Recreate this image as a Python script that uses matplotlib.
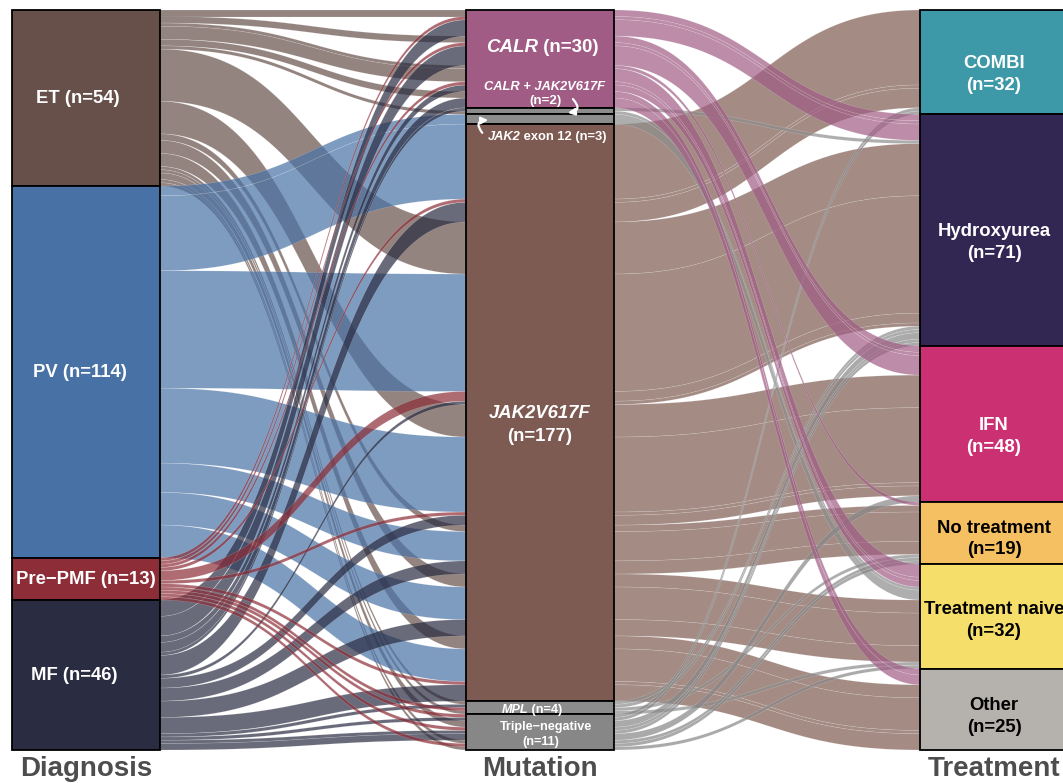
import numpy as np
import matplotlib
matplotlib.use("Agg")
import matplotlib.pyplot as plt
from matplotlib.patches import Rectangle, Polygon, FancyArrowPatch
from matplotlib.colors import to_rgba

# ---------------------------------------------------------------- data
diagnoses = ["ET", "PV", "Pre\u2212PMF", "MF"]
mutations = ["CALR", "CALR + JAK2V617F", "JAK2 exon 12", "JAK2V617F", "MPL",
             "Triple\u2212negative"]
treatments = ["COMBI", "Hydroxyurea", "IFN", "No treatment", "Treatment naive",
              "Other"]

# patients per (mutation row) x (treatment column), one table per diagnosis
et_counts = [
    [0, 2, 2, 1, 4, 2],
    [0, 0, 0, 0, 1, 0],
    [0, 0, 0, 0, 0, 0],
    [0, 16, 10, 2, 4, 4],
    [0, 1, 0, 0, 1, 0],
    [0, 2, 0, 1, 1, 0],
]
pv_counts = [
    [0, 0, 0, 0, 0, 0],
    [0, 0, 0, 0, 0, 0],
    [0, 0, 0, 0, 3, 0],
    [23, 36, 23, 9, 10, 10],
    [0, 0, 0, 0, 0, 0],
    [0, 0, 0, 0, 0, 0],
]
prepmf_counts = [
    [0, 1, 1, 0, 1, 0],
    [0, 0, 0, 0, 0, 0],
    [0, 0, 0, 0, 0, 0],
    [1, 3, 1, 0, 0, 1],
    [0, 0, 0, 1, 0, 0],
    [1, 1, 0, 1, 0, 0],
]
mf_counts = [
    [0, 5, 6, 0, 2, 3],
    [0, 1, 0, 0, 0, 0],
    [0, 0, 0, 0, 0, 0],
    [6, 1, 3, 4, 5, 5],
    [0, 1, 0, 0, 0, 0],
    [1, 1, 2, 0, 0, 0],
]
tables = [et_counts, pv_counts, prepmf_counts, mf_counts]

diag_colors = ["#67504A", "#4872A6", "#8C2D37", "#2A2C42"]
mut_colors = ["#A05C84", "#8C8C8C", "#8C8C8C", "#7E5B52", "#8C8C8C", "#878787"]
treat_colors = ["#3D98A8", "#322652", "#CA3072", "#F5C062", "#F6DE6A", "#B5B1AC"]
treat_text = ["white", "white", "white", "black", "black", "black"]

# ---------------------------------------------------------------- paths
paths = []
for d, tab in enumerate(tables):
    for m, row in enumerate(tab):
        for t, c in enumerate(row):
            if c > 0:
                paths.append((d, m, t, c))
N = sum(p[3] for p in paths)


def stack(order_key):
    pos = {}
    y = 0.0
    for p in sorted(paths, key=order_key):
        pos[p[:3]] = y
        y += p[3]
    return pos


pos_diag = stack(lambda p: (p[0], p[1], p[2]))
pos_mut = stack(lambda p: (p[1], p[2], p[0]))
pos_treat = stack(lambda p: (p[2], p[1], p[0]))

# ---------------------------------------------------------------- figure
W_PX, H_PX = 1063, 783
fig = plt.figure(figsize=(W_PX / 100, H_PX / 100), dpi=100)
ax = fig.add_axes([0, 0, 1, 1])
ax.axis("off")

top_px, bot_px = 10, 750
unit = (bot_px - top_px) / N
px_per_x, x0_px = 454, 86
ax.set_xlim(1 - x0_px / px_per_x, 1 + (W_PX - x0_px) / px_per_x)
ax.set_ylim(N + (H_PX - bot_px) / unit, -top_px / unit)

width = 148 / 454
xs_axes = [1, 2, 3]

tt = np.linspace(0, 1, 80)
bez_x = 1.5 * tt * (1 - tt) + tt ** 3
bez_y = 3 * tt ** 2 - 2 * tt ** 3


def flow(xa, xb, ya, yb, c, color, z):
    xs = xa + (xb - xa) * bez_x
    ytop = ya + (yb - ya) * bez_y
    verts = np.column_stack([np.r_[xs, xs[::-1]],
                             np.r_[ytop, (ytop + c)[::-1]]])
    ax.add_patch(Polygon(verts, closed=True, fc=to_rgba(color, 0.7),
                         ec=(1, 1, 1, 0.3), lw=0.3, zorder=z))


# diagnosis -> mutation flows
draw_order_d = [0, 1, 3, 2]
for rank, d in enumerate(draw_order_d):
    for p in paths:
        if p[0] != d:
            continue
        k = p[:3]
        flow(1 + width / 2, 2 - width / 2, pos_diag[k], pos_mut[k], p[3],
             diag_colors[d], 1 + rank * 0.01)

# mutation -> treatment flows
draw_order_m = [3, 1, 2, 4, 5, 0]
for rank, m in enumerate(draw_order_m):
    for p in paths:
        if p[1] != m:
            continue
        k = p[:3]
        flow(2 + width / 2, 3 - width / 2, pos_mut[k], pos_treat[k], p[3],
             mut_colors[m], 1 + rank * 0.01)


# strata boxes
def strata(x, sizes, colors):
    y = 0
    for s, c in zip(sizes, colors):
        ax.add_patch(Rectangle((x - width / 2, y), width, s, fc=c, ec="black",
                               lw=1.3, zorder=3))
        y += s


diag_tot = [sum(sum(r) for r in tab) for tab in tables]
mut_tot = [sum(tab[m][t] for tab in tables for t in range(6)) for m in range(6)]
treat_tot = [sum(tab[m][t] for tab in tables for m in range(6)) for t in range(6)]
strata(1, diag_tot, diag_colors)
strata(2, mut_tot, mut_colors)
strata(3, treat_tot, treat_colors)

# ---------------------------------------------------------------- labels
FONT = "Liberation Sans"
renderer = fig.canvas.get_renderer()


def rich(x_px, base_px, parts, size, color="white"):
    objs, total = [], 0.0
    for s, ital in parts:
        t = fig.text(0, 0, s, fontsize=size, fontweight="bold",
                     fontstyle="italic" if ital else "normal", color=color,
                     ha="left", va="baseline", family=FONT, zorder=5)
        w = t.get_window_extent(renderer).width
        objs.append((t, w))
        total += w
    x = x_px - total / 2
    for t, w in objs:
        t.set_position((x / W_PX, 1 - base_px / H_PX))
        x += w


# diagnosis
rich(78, 103, [(f"{diagnoses[0]} (n={diag_tot[0]})", False)], 13.3)
rich(80, 377, [(f"{diagnoses[1]} (n={diag_tot[1]})", False)], 13.3)
rich(86, 584, [(f"{diagnoses[2]} (n={diag_tot[2]})", False)], 13.3)
rich(74, 680, [(f"{diagnoses[3]} (n={diag_tot[3]})", False)], 13.3)

# mutation
rich(542, 52, [("CALR", True), (f" (n={mut_tot[0]})", False)], 13.5)
rich(544, 89.5, [("CALR + JAK2V617F", True)], 9.3)
rich(545, 104, [(f"(n={mut_tot[1]})", False)], 9.6)
rich(547, 140, [("JAK2", True), (f" exon 12 (n={mut_tot[2]})", False)], 9.3)
rich(540, 418, [("JAK2V617F", True)], 13.3)
rich(540, 441, [(f"(n={mut_tot[3]})", False)], 13.3)
rich(532, 713, [("MPL", True), (f" (n={mut_tot[4]})", False)], 9.1)
rich(546, 730, [(mutations[5], False)], 9.1)
rich(541, 745.5, [(f"(n={mut_tot[5]})", False)], 9.1)

# treatment
treat_base = [68.5, 236.5, 430, 533, 614, 710.5]
for i, name in enumerate(treatments):
    rich(994, treat_base[i], [(name, False)], 13.3, treat_text[i])
    rich(994, treat_base[i] + 21.5, [(f"(n={treat_tot[i]})", False)], 13.3,
         treat_text[i])


# small curved pointers to the thin strata
def px2fig(x, y):
    return (x / W_PX, 1 - y / H_PX)


for tail, tip, rad in [((571, 97), (565, 113), -1.1),
                       ((484, 135), (491, 120), -1.1)]:
    arr = FancyArrowPatch(px2fig(*tail), px2fig(*tip), transform=fig.transFigure,
                          connectionstyle=f"arc3,rad={rad}", arrowstyle="-|>",
                          mutation_scale=10, color="white", lw=1.6, zorder=6)
    fig.patches.append(arr)

# axis titles
for x, name in zip(xs_axes, ["Diagnosis", "Mutation", "Treatment"]):
    ax.text(x, (776 - top_px) / unit, name, ha="center", va="baseline",
            fontsize=20, fontweight="bold", color="#4D4D4D", family=FONT,
            zorder=5)

fig.savefig("out.png", dpi=100)
